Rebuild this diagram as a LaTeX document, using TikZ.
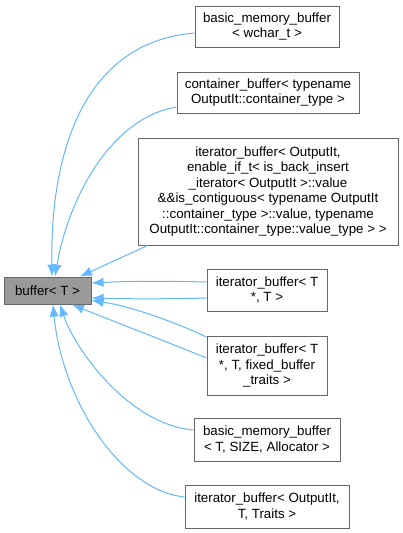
\documentclass[tikz,border=0pt]{standalone}
\usepackage{fontspec}
\setmainfont{Liberation Sans}
\usetikzlibrary{arrows.meta,calc}
\definecolor{edgeblue}{HTML}{63B8FF}
\definecolor{basefill}{HTML}{999999}
\definecolor{nodeline}{HTML}{666666}
\begin{document}
\begin{tikzpicture}[x=0.75pt,y=-0.75pt,
  cls/.style={draw=nodeline, line width=0.75pt, fill=white, inner sep=0pt, align=center,
    font=\fontsize{10}{11.6}\selectfont},
  base/.style={cls, fill=basefill},
  inh/.style={draw=edgeblue, line width=0.75pt, {Latex[length=9pt,width=7pt]}-}]
\fill[white] (0,0) rectangle (403,533);
\useasboundingbox (0,0) rectangle (403,533);

\node[base, minimum width=65.25pt, minimum height=20.25pt] (buffer) at (47.5,290.5) {buffer< T >};
\node[cls, minimum width=108pt, minimum height=30.75pt] (wchar) at (267,26.5) {basic\_memory\_buffer\\< wchar\_t >};
\node[cls, minimum width=136.5pt, minimum height=30.75pt] (container) at (268,92.5) {container\_buffer< typename\\OutputIt::container\_type >};
\node[cls, minimum width=195pt, minimum height=80.25pt] (big) at (268,191.5) {iterator\_buffer< OutputIt,\\enable\_if\_t< is\_back\_insert\\\_iterator< OutputIt >::value\\\&\&is\_contiguous< typename OutputIt\\::container\_type >::value, typename\\OutputIt::container\_type::value\_type > >};
\node[cls, minimum width=90pt, minimum height=31.5pt] (tt) at (267,290) {iterator\_buffer< T\\*, T >};
\node[cls, minimum width=90pt, minimum height=44.25pt] (fixed) at (267,365.5) {iterator\_buffer< T\\*, T, fixed\_buffer\\\_traits >};
\node[cls, minimum width=109.5pt, minimum height=32.25pt] (size) at (267,439.5) {basic\_memory\_buffer\\< T, SIZE, Allocator >};
\node[cls, minimum width=123pt, minimum height=32.25pt] (traits) at (267,506.5) {iterator\_buffer< OutputIt,\\T, Traits >};

\draw[inh] ($(buffer.north)+(4.5,0)$) .. controls (50,150) and (85,42) .. ($(wchar.west)+(0,6.5)$);
\draw[inh] ($(buffer.north)+(7.5,0)$) .. controls (68,200) and (110,118) .. ($(container.west)+(0,14.5)$);
\draw[inh] ($(buffer.north)+(32.5,0)$) -- ($(big.south west)+(10,0)$);
\draw[inh] ($(buffer.east)+(0,-7.5)$) .. controls (130,281) and (170,281) .. ($(tt.west)+(0,-8)$);
\draw[inh] ($(buffer.east)+(0,7.5)$) .. controls (130,299) and (170,299) .. ($(tt.west)+(0,8)$);
\draw[inh] ($(buffer.east)+(0,10)$) .. controls (130,306) and (175,322) .. ($(fixed.west)+(0,-28.5)$);
\draw[inh] ($(buffer.south)+(24.5,0)$) .. controls (110,320) and (170,343) .. ($(fixed.west)+(0,-7.5)$);
\draw[inh] ($(buffer.south)+(12.5,0)$) .. controls (75,350) and (130,425) .. ($(size.west)+(0,-9.5)$);
\draw[inh] ($(buffer.south)+(5.5,0)$) .. controls (62,400) and (120,490) .. ($(traits.west)+(0,-9.5)$);
\end{tikzpicture}
\end{document}
